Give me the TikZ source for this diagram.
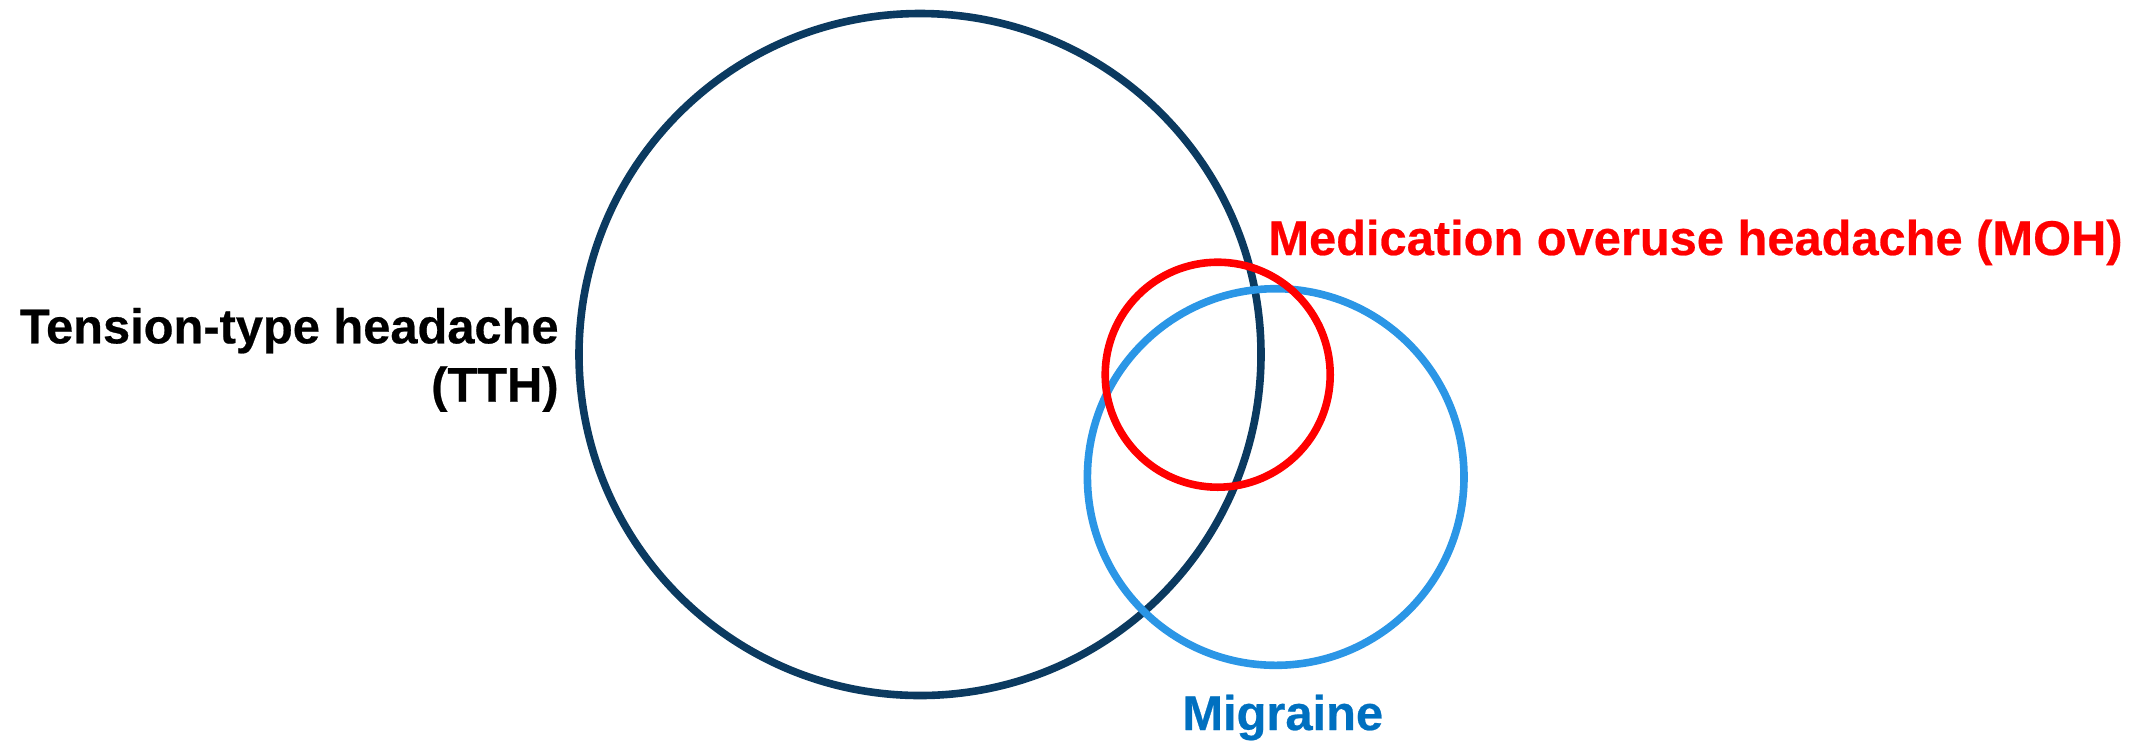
\documentclass[tikz,border=0pt]{standalone}
\usepackage{fontspec}
\setmainfont{Liberation Sans}[BoldFeatures={FakeBold=0.5}]
\definecolor{tthcol}{RGB}{11,58,96}
\definecolor{migcol}{RGB}{43,150,230}
\definecolor{mohcol}{RGB}{255,0,0}
\definecolor{migtext}{RGB}{0,112,192}
\begin{document}
\begin{tikzpicture}[x=0.5pt,y=-0.5pt,
  ring/.style={line width=3.8pt},
  lbl/.style={inner sep=0pt, font=\bfseries\fontsize{24.4}{29.2}\selectfont}]
\useasboundingbox (0,0) rectangle (2151,741);
\coordinate (ctth) at (920,354.5);
\coordinate (cmig) at (1275.7,477);
\coordinate (cmoh) at (1217.7,374.7);
\draw[ring, tthcol] (ctth) circle[radius=341];
\draw[ring, migcol] (cmig) circle[radius=188.3];
\draw[ring, mohcol] (cmoh) circle[radius=112.5];
\node[lbl, anchor=base east, align=right] (ltth) at (559,401.7) {Tension-type headache\\(TTH)};
\node[lbl, anchor=base west, text=mohcol] (lmoh) at (1268,255) {Medication overuse headache (MOH)};
\node[lbl, anchor=base west, text=migtext] (lmig) at (1182,730) {Migraine};
\end{tikzpicture}
\end{document}
